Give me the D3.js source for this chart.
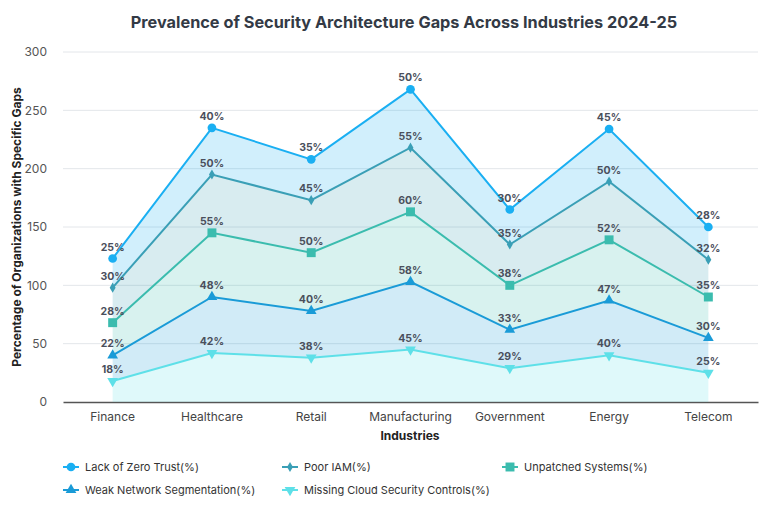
<!DOCTYPE html>
<html><head><meta charset="utf-8">
<script src="https://cdn.jsdelivr.net/npm/d3@7"></script>
<style>body{margin:0;background:#fff;} svg{display:block;font-family:Inter, "Noto Sans", sans-serif;}</style>
</head><body>
<svg id="c" width="768" height="505"></svg>
<script>
const categories = ["Finance","Healthcare","Retail","Manufacturing","Government","Energy","Telecom"];
const seriesNames = ["Missing Cloud Security Controls(%)","Weak Network Segmentation(%)","Unpatched Systems(%)","Poor IAM(%)","Lack of Zero Trust(%)"];
const missingCloud = [18,42,38,45,29,40,25];
const weakNetwork = [22,48,40,58,33,47,30];
const unpatched = [28,55,50,60,38,52,35];
const poorIAM = [30,50,45,55,35,50,32];
const zeroTrust = [25,40,35,50,30,45,28];
const yTicks = [0,50,100,150,200,250,300];

const colors = ["#5ee0e8","#1a9bd7","#3bbcae","#3a9fb6","#1aaff2"];
const symbols = [d3.symbolTriangle, d3.symbolTriangle, d3.symbolSquare, d3.symbolDiamond, d3.symbolCircle];
const symRot = [180,0,0,0,0];
const symSize = [50,50,80,30,60];
const values = [missingCloud, weakNetwork, unpatched, poorIAM, zeroTrust];

const table = categories.map((c,i)=>{const o={cat:c}; seriesNames.forEach((s,j)=>o[s]=values[j][i]); return o;});
const stack = d3.stack().keys(seriesNames)(table);

const svg = d3.select("#c");
const L=63,R=758,T=52,B=402;
const x = d3.scaleBand().domain(categories).range([L,R]);
const cx = c => x(c)+x.bandwidth()/2;
const y = d3.scaleLinear().domain([0,300]).range([B,T]);

svg.append("text").attr("x",404).attr("y",28).attr("text-anchor","middle")
  .attr("font-size",16.3).attr("font-weight",700).attr("fill","#333a45")
  .text("Prevalence of Security Architecture Gaps Across Industries 2024-25");

// grid
svg.append("g").selectAll("line").data(yTicks.filter(d=>d>0)).join("line")
  .attr("x1",L).attr("x2",R).attr("y1",d=>y(d)).attr("y2",d=>y(d))
  .attr("stroke","#e3e6ea").attr("stroke-width",1);

const yAxis = svg.append("g").attr("transform",`translate(${L},0)`)
  .call(d3.axisLeft(y).tickValues(yTicks).tickSize(0).tickPadding(16));
yAxis.select(".domain").remove();
yAxis.selectAll("text").attr("font-size",12).attr("fill","#555").attr("font-family","Inter, sans-serif");

const xAxis = svg.append("g").attr("transform",`translate(0,${B})`)
  .call(d3.axisBottom(x).tickSize(0).tickPadding(10));
xAxis.select(".domain").attr("stroke","#555").attr("stroke-width",1.5);
xAxis.selectAll("text").attr("font-size",12).attr("fill","#444").attr("font-family","Inter, sans-serif");

svg.append("text").attr("x",410).attr("y",440).attr("text-anchor","middle")
  .attr("font-size",12).attr("font-weight",700).attr("fill","#222").text("Industries");
svg.append("text").attr("transform","translate(21,227) rotate(-90)").attr("text-anchor","middle")
  .attr("font-size",12).attr("font-weight",700).attr("fill","#222").text("Percentage of Organizations with Specific Gaps");

const area = d3.area().x(d=>cx(d.data.cat)).y0(d=>y(d[0])).y1(d=>y(d[1]));
const line = d3.line().x(d=>cx(d.data.cat)).y(d=>y(d[1]));

stack.forEach((s,i)=>{
  svg.append("path").attr("d",area(s)).attr("fill",colors[i]).attr("fill-opacity",0.2);
});
stack.forEach((s,i)=>{
  svg.append("path").attr("d",line(s)).attr("fill","none").attr("stroke",colors[i]).attr("stroke-width",2);
});
stack.forEach((s,i)=>{
  svg.append("g").selectAll("path").data(s).join("path")
    .attr("d",d3.symbol().type(symbols[i]).size(symSize[i]))
    .attr("transform",d=>`translate(${cx(d.data.cat)},${y(d[1])}) rotate(${symRot[i]})`)
    .attr("fill",colors[i]);
  svg.append("g").selectAll("text").data(s).join("text")
    .attr("x",d=>cx(d.data.cat)).attr("y",d=>y(d[1])-8).attr("text-anchor","middle")
    .attr("font-size",10.5).attr("font-weight",700).attr("fill","#4a4f5c")
    .text(d=>(d[1]-d[0])+"%");
});

// legend
const legOrder = [4,3,2,1,0];
const legPos = [[63,467],[282,467],[502,467],[63,490],[282,490]];
legOrder.forEach((k,i)=>{
  const [lx,ly]=legPos[i];
  const g=svg.append("g").attr("transform",`translate(${lx},${ly})`);
  g.append("line").attr("x1",0).attr("x2",16).attr("stroke",colors[k]).attr("stroke-width",2);
  g.append("path").attr("d",d3.symbol().type(symbols[k]).size(symSize[k]))
    .attr("transform",`translate(8,0) rotate(${symRot[k]})`).attr("fill",colors[k]);
  g.append("text").attr("x",22).attr("y",4).attr("font-size",11).attr("fill","#333").text(seriesNames[k]);
});
</script>
</body></html>
